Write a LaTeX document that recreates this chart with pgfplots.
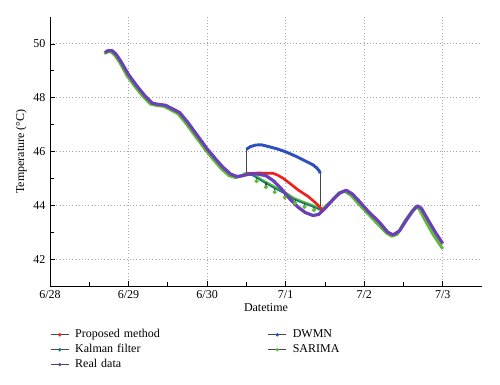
\documentclass[border=0pt]{standalone}
\usepackage{fontspec}
\setmainfont{Liberation Serif}
\usepackage{pgfplots}
\pgfplotsset{compat=1.18}
\definecolor{cPurple}{RGB}{106,64,184}
\definecolor{cGreen}{RGB}{96,186,52}
\definecolor{cBlue}{RGB}{44,78,190}
\definecolor{cRed}{RGB}{236,34,30}
\definecolor{cTeal}{RGB}{20,128,128}
\definecolor{cLine}{RGB}{70,70,70}
\begin{document}
\begin{tikzpicture}
\path[use as bounding box] (-37.5pt,-74.25pt) rectangle (337.5pt,214.5pt);
\begin{axis}[
  scale only axis,
  width=324pt, height=201.75pt,
  xmin=0, xmax=5.5, ymin=41, ymax=51,
  axis x line*=bottom, axis y line*=left,
  xtick={0,1,2,3,4,5},
  xticklabels={6/28,6/29,6/30,7/1,7/2,7/3},
  minor x tick num=1,
  ytick={42,44,46,48,50},
  minor y tick num=1,
  grid=major,
  major grid style={gray!70, dotted, line width=0.6pt},
  tick style={black, line width=0.5pt},
  major tick length=4pt, minor tick length=3pt,
  axis line style={black, line width=0.6pt},
  tick label style={font=\fontsize{9}{10}\selectfont},
  /pgf/number format/assume math mode=true,
  label style={font=\fontsize{9}{10}\selectfont},
  xlabel={Datetime},
  ylabel={Temperature (°C)},
  xlabel style={yshift=3pt},
  ylabel style={yshift=-2pt},
  legend columns=2,
  legend cell align=left,
  legend style={at={(rel axis cs:0,0)}, anchor=north west, yshift=-29pt, xshift=-3pt,
    draw=none, fill=none, font=\fontsize{9}{10}\selectfont,
    row sep=0.4pt,
    nodes={text width=140pt, inner ysep=1.5pt, inner xsep=4.5pt}},
]
% legend entries
\addlegendimage{legend image code/.code={\draw[cLine, line width=0.7pt] (0pt,0pt)--(13.5pt,0pt); \fill[cRed] (6.75pt,0pt) circle (1.1pt);}}
\addlegendentry{Proposed method}
\addlegendimage{legend image code/.code={\draw[cLine, line width=0.7pt] (0pt,0pt)--(13.5pt,0pt); \fill[cBlue] (6.75pt,0pt) circle (1.1pt);}}
\addlegendentry{DWMN}
\addlegendimage{legend image code/.code={\draw[cLine, line width=0.7pt] (0pt,0pt)--(13.5pt,0pt); \fill[cTeal] (6.75pt,0pt) circle (1.1pt);}}
\addlegendentry{Kalman filter}
\addlegendimage{legend image code/.code={\draw[cLine, line width=0.7pt] (0pt,0pt)--(13.5pt,0pt); \fill[cGreen] (6.75pt,0pt) circle (1.1pt);}}
\addlegendentry{SARIMA}
\addlegendimage{legend image code/.code={\draw[cLine, line width=0.7pt] (0pt,0pt)--(13.5pt,0pt); \fill[cPurple] (6.75pt,0pt) circle (1.1pt);}}
\addlegendentry{Real data}

% DWMN connectors (thin dark lines)
\addplot[forget plot, cLine, line width=0.6pt] coordinates {(2.5,45.15) (2.5,46.08)};
\addplot[forget plot, cLine, line width=0.6pt] coordinates {(3.44,45.19) (3.44,43.83)};
% SARIMA (green) full series
\addplot[forget plot, cGreen, line width=2.2pt, line join=round] coordinates {
(0.69,49.64) (0.73,49.70) (0.78,49.70) (0.83,49.56) (0.89,49.30) (0.98,48.82)
(1.08,48.42) (1.18,48.06) (1.28,47.76) (1.36,47.71) (1.45,47.68) (1.53,47.56)
(1.63,47.40) (1.73,47.05) (1.83,46.65) (1.98,46.06) (2.08,45.70) (2.18,45.36)
(2.28,45.10) (2.36,45.03) (2.43,45.08) (2.50,45.20)
(2.59,45.13) (2.70,44.93) (2.84,44.70) (3.00,44.45) (3.10,44.26) (3.20,44.14)
(3.33,44.00) (3.46,43.83) (3.58,44.15) (3.68,44.46) (3.75,44.52) (3.83,44.38)
(3.92,44.08) (4.18,43.28) (4.28,42.98) (4.35,42.85) (4.42,42.92) (4.52,43.42)
(4.60,43.75) (4.66,43.96) (4.70,43.86) (4.78,43.42) (4.88,42.90) (5.00,42.38)};
% Kalman filter
\addplot[forget plot, cTeal, line width=1.2pt] coordinates {
(2.5,45.17) (2.59,45.10) (2.70,44.90) (2.84,44.67) (3.00,44.42) (3.10,44.23)
(3.20,44.11) (3.33,43.97) (3.46,43.81)};
% SARIMA dips (error-bar style)
\addplot[forget plot, only marks, mark=*, mark size=1.4pt, cGreen,
  error bars/.cd, y dir=plus, y explicit, error mark=none,
  error bar style={cLine, line width=0.8pt}] coordinates {
(2.63,44.90) +- (0,0.17)
(2.75,44.68) +- (0,0.17)
(2.86,44.49) +- (0,0.17)
(2.99,44.29) +- (0,0.17)
(3.12,44.08) +- (0,0.17)
(3.24,43.94) +- (0,0.16)
(3.36,43.82) +- (0,0.15)};
% Proposed method
\addplot[forget plot, cRed, line width=2.0pt, line join=round] coordinates {
(2.5,45.18) (2.65,45.20) (2.84,45.19) (2.90,45.12) (2.97,45.00) (3.06,44.80)
(3.16,44.57) (3.29,44.32) (3.39,44.07) (3.46,43.85)};
% Real data
\addplot[forget plot, cPurple, line width=2.4pt, line join=round] coordinates {
(0.70,49.68) (0.74,49.75) (0.79,49.75) (0.84,49.62) (0.90,49.36) (1.00,48.86)
(1.10,48.46) (1.20,48.10) (1.30,47.80) (1.38,47.75) (1.47,47.72) (1.55,47.60)
(1.65,47.45) (1.75,47.10) (1.85,46.70) (2.00,46.10) (2.10,45.75) (2.20,45.42)
(2.30,45.16) (2.38,45.07) (2.45,45.10) (2.55,45.17) (2.65,45.16) (2.75,45.10)
(2.85,44.90) (2.95,44.60) (3.05,44.25) (3.15,43.95) (3.25,43.73) (3.35,43.62)
(3.42,43.66) (3.50,43.88) (3.60,44.20) (3.69,44.46) (3.77,44.56) (3.85,44.42)
(3.94,44.14) (4.05,43.78) (4.20,43.35) (4.30,43.00) (4.37,42.90) (4.45,43.05)
(4.54,43.46) (4.62,43.80) (4.68,43.98) (4.73,43.88) (4.82,43.42) (4.91,42.98)
(5.00,42.58)};
% DWMN
\addplot[forget plot, cBlue, line width=2.2pt, line join=round] coordinates {
(2.5,46.08) (2.55,46.18) (2.62,46.24) (2.69,46.25) (2.80,46.17) (2.90,46.09)
(3.00,45.99) (3.14,45.81) (3.25,45.65) (3.35,45.50) (3.40,45.38) (3.43,45.27)
(3.44,45.19)};
\end{axis}
\end{tikzpicture}
\end{document}
